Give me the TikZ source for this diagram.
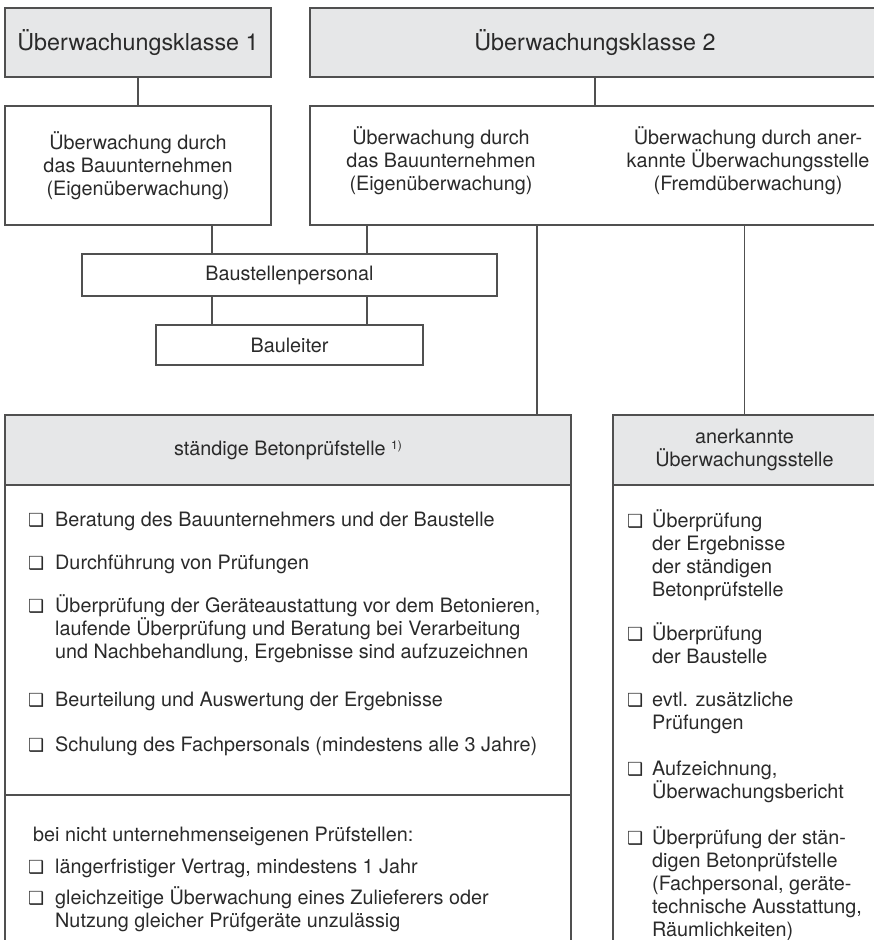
\documentclass[tikz,border=0pt]{standalone}
\usepackage{fontspec}
\setmainfont{TeX Gyre Heros}
\newfontfamily\dejavufont{DejaVu Sans}
\definecolor{boxgray}{HTML}{E6E7E8}
\definecolor{linegray}{HTML}{505050}
\definecolor{textdark}{HTML}{2A2A2A}
\newcommand\bodyfont{\fontsize{19.8}{23}\selectfont}
\newcommand\titlefont{\fontsize{23.3}{27}\selectfont}
\newcommand\sqbullet{{\dejavufont\fontsize{18}{18}\selectfont\char"2751}}

\begin{document}
\begin{tikzpicture}[x=1pt, y=-1pt,
    box/.style={draw=linegray, line width=1.2pt, inner sep=0pt, align=center, font=\bodyfont, text=textdark},
    headbox/.style={box, fill=boxgray},
    txt/.style={inner sep=0pt, font=\bodyfont, text=textdark, align=center},
    itemtxt/.style={txt, anchor=base west, align=left},
    bulletbox/.style={inner sep=0pt, anchor=base west, text=textdark},
    link/.style={draw=linegray, line width=1.2pt}]
    % page size of the reference
    \useasboundingbox (0,0) rectangle (874,940);
    \clip (0,0) rectangle (874,940);

    % the two classes
    \node[headbox, font=\titlefont, minimum width=266pt, minimum height=69pt] (kl1) at (138,42.5) {Überwachungsklasse 1};
    \node[headbox, font=\titlefont, minimum width=570pt, minimum height=69pt] (kl2) at (595,42.5) {Überwachungsklasse 2};

    % kind of supervision
    \node[box, minimum width=266pt, minimum height=119pt] (eig1) at (138,165.5)
        {Überwachung durch\\das Bauunternehmen\\(Eigenüberwachung)};
    \node[box, minimum width=570pt, minimum height=119pt] (eig2) at (595,165.5) {};
    \node[txt] (eig2txt) at (441,161) {Überwachung durch\\das Bauunternehmen\\(Eigenüberwachung)};
    \node[txt] (fremd) at (748,161) {Überwachung durch aner-\\kannte Überwachungsstelle\\(Fremdüberwachung)};

    % site staff
    \node[box, minimum width=415pt, minimum height=42pt] (bsp) at (289.5,275) {Baustellenpersonal};
    \node[box, minimum width=267pt, minimum height=40pt] (bltr) at (289.5,345) {Bauleiter};

    % testing bodies, open at the bottom
    \node[box, minimum width=566pt, minimum height=475pt] (bpsbody) at (288,722.5) {};
    \node[headbox, minimum width=566pt, minimum height=70pt] (bps) at (288,450)
        {ständige Betonprüfstelle \raisebox{0.6ex}{\fontsize{12}{12}\selectfont 1)}};
    \node[box, minimum width=263pt, minimum height=475pt] (auebody) at (744.5,722.5) {};
    \node[headbox, minimum width=263pt, minimum height=70pt] (aue) at (744.5,450)
        {anerkannte\\Überwachungsstelle};
    \draw[link] (bpsbody.west |- 0,795) -- (bpsbody.east |- 0,795);

    % connectors
    \coordinate (xa) at (212,0);
    \coordinate (xb) at (367,0);
    \coordinate (xc) at (537,0);
    \draw[link] (kl1) -- (eig1);
    \draw[link] (kl2) -- (eig2);
    \draw[link] (eig1.south -| xa) -- (bsp.north -| xa);
    \draw[link] (eig2.south -| xb) -- (bsp.north -| xb);
    \draw[link] (bsp.south -| xa) -- (bltr.north -| xa);
    \draw[link] (bsp.south -| xb) -- (bltr.north -| xb);
    \draw[link] (eig2.south -| xc) -- (bps.north -| xc);
    \draw[link] (eig2.south -| aue.north) -- (aue.north);

    % tasks of the Betonpruefstelle (y of first baseline / number of lines)
    \foreach \y/\n/\t [count=\i] in {
        526/1/{Beratung des Bauunternehmers und der Baustelle},
        569/1/{Durchführung von Prüfungen},
        612/3/{Überprüfung der Geräteaustattung vor dem Betonieren,\\laufende Überprüfung und Beratung bei Verarbeitung\\und Nachbehandlung, Ergebnisse sind aufzuzeichnen},
        706/1/{Beurteilung und Auswertung der Ergebnisse},
        751/1/{Schulung des Fachpersonals (mindestens alle 3 Jahre)},
        873/1/{längerfristiger Vertrag, mindestens 1 Jahr},
        904/2/{gleichzeitige Überwachung eines Zulieferers oder\\Nutzung gleicher Prüfgeräte unzulässig}} {
        \node[bulletbox] (lb\i) at (28,\y) {\sqbullet};
        \node[itemtxt] (lt\i) at (55,\y+23*\n-23) {\t};
    }
    \node[itemtxt] (extern) at (33,841) {bei nicht unternehmenseigenen Prüfstellen:};

    % tasks of the Ueberwachungsstelle
    \foreach \y/\n/\t [count=\i] in {
        527/4/{Überprüfung\\der Ergebnisse\\der ständigen\\Betonprüfstelle},
        640/2/{Überprüfung\\der Baustelle},
        706/2/{evtl. zusätzliche\\Prüfungen},
        775/2/{Aufzeichnung,\\Überwachungsbericht},
        844/5/{Überprüfung der stän-\\digen Betonprüfstelle\\(Fachpersonal, geräte-\\technische Ausstattung,\\Räumlichkeiten)}} {
        \node[bulletbox] (rb\i) at (627,\y) {\sqbullet};
        \node[itemtxt] (rt\i) at (652,\y+23*\n-23) {\t};
    }
\end{tikzpicture}
\end{document}
